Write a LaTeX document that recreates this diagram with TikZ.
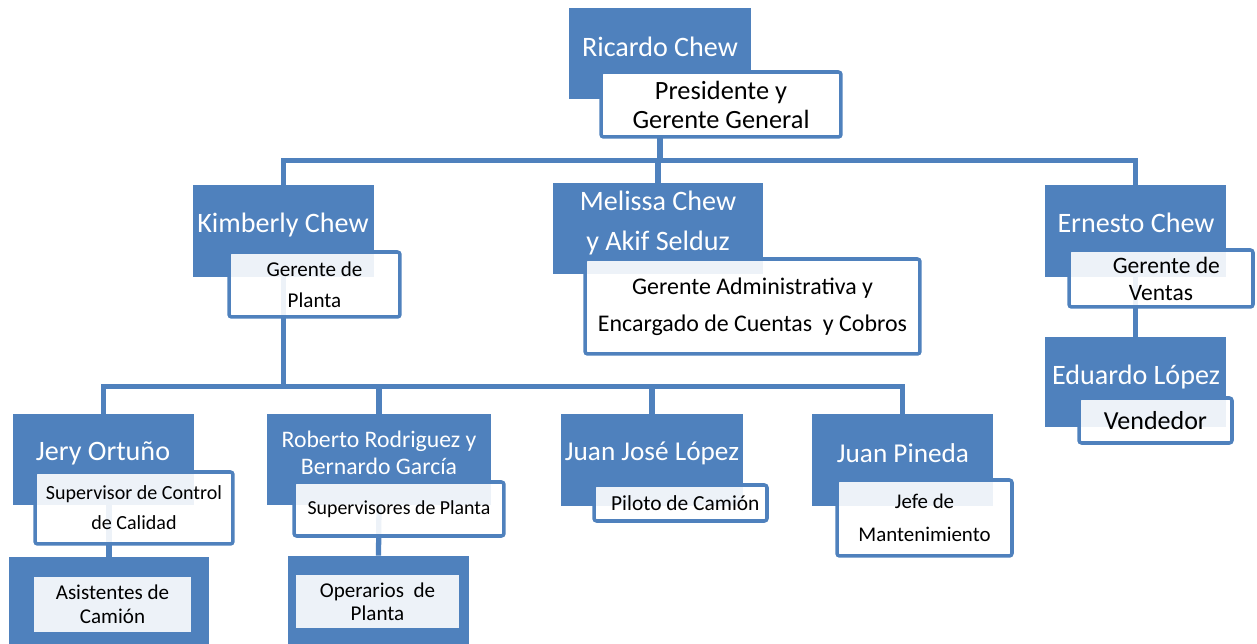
\documentclass[tikz,border=0pt]{standalone}
\usepackage{fontspec}
\setmainfont{Carlito}
\usepackage{tikz}
\usetikzlibrary{fit}
\definecolor{orgblue}{RGB}{79,129,189}

\begin{document}
\begin{tikzpicture}[x=0.02cm, y=-0.02cm,
    namebox/.style={fill=orgblue, inner sep=0pt},
    namelbl/.style={text=white, align=center, inner sep=0pt},
    rolebox/.style={draw=orgblue, line width=2pt, fill=white, fill opacity=0.9, text opacity=1, rounded corners=1.5pt, inner sep=0pt, align=center},
    innerbox/.style={fill=white, fill opacity=0.9, text opacity=1, inner sep=0pt, align=center},
    conn/.style={draw=orgblue, line width=3pt}]
    \clip (0, 0) rectangle (1257, 644);
    \node[namebox, fit={(569, 8) (751, 99)}] (ricardo) {};
    \node[namebox, fit={(193, 185) (374, 277)}] (kimberly) {};
    \node[namebox, fit={(553, 183) (763, 274)}] (melissa) {};
    \node[namebox, fit={(1045, 185) (1226, 277)}] (ernesto) {};
    \node[namebox, fit={(1045, 337) (1226, 427)}] (eduardo) {};
    \node[namebox, fit={(13, 414) (194, 505)}] (jery) {};
    \node[namebox, fit={(267, 414) (491, 505)}] (roberto) {};
    \node[namebox, fit={(561, 414) (743, 506)}] (juanjose) {};
    \node[namebox, fit={(812, 414) (993, 506)}] (pineda) {};
    \node[namebox, fit={(9, 557) (209, 660)}] (asistentes) {};
    \node[namebox, fit={(288, 556) (469, 660)}] (operarios) {};

    \path[conn] (ricardo.south) -- ++(0, 61) -| (kimberly.north);
    \path[conn] (ricardo.south) -- ++(0, 61) -| (melissa.north);
    \path[conn] (ricardo.south) -- ++(0, 61) -| (ernesto.north);
    \path[conn] (ernesto.south) -- (eduardo.north);
    \path[conn] (kimberly.south) -- ++(0, 109) -| (jery.north);
    \path[conn] (kimberly.south) -- ++(0, 109) -| (roberto.north);
    \path[conn] (kimberly.south) -- ++(0, 109) -| (juanjose.north);
    \path[conn] (kimberly.south) -- ++(0, 109) -| (pineda.north);
    \path[conn] (asistentes.north |- jery.south) -- (asistentes.north);
    \path[conn] (roberto.south) -- (operarios.north);

    \node[rolebox, fill opacity=1, minimum width=4.8cm, minimum height=1.3cm, font=\fontsize{15}{16.5}\selectfont] (ricardo-r) at (721, 104.5) {Presidente y\\Gerente General};
    \node[rolebox, minimum width=3.42cm, minimum height=1.3cm, font=\fontsize{12}{17.6}\selectfont] (kimberly-r) at (314.5, 284.5) {Gerente de\\Planta};
    \node[rolebox, minimum width=6.7cm, minimum height=1.9cm, font=\fontsize{13.6}{21}\selectfont] (melissa-r) at (752.5, 306.5) {Gerente Administrativa y\\Encargado de Cuentas\ \ y Cobros};
    \node[rolebox, minimum width=3.68cm, minimum height=1.14cm, font=\fontsize{13.4}{15.4}\selectfont] (ernesto-r) at (1161, 278.5) {\ \ Gerente de\\Ventas};
    \node[rolebox, minimum width=3.06cm, minimum height=0.9cm, font=\fontsize{14.8}{17}\selectfont] (eduardo-r) at (1155.5, 420.5) {Vendedor};
    \node[rolebox, minimum width=3.96cm, minimum height=1.44cm, font=\fontsize{11.4}{17}\selectfont] (jery-r) at (134, 508) {Supervisor de Control\\de Calidad};
    \node[rolebox, minimum width=4.2cm, minimum height=1.08cm, font=\fontsize{11.3}{13}\selectfont] (roberto-r) at (399, 509) {Supervisores de Planta};
    \node[rolebox, minimum width=3.46cm, minimum height=0.72cm, font=\fontsize{12.2}{14}\selectfont] (juanjose-r) at (680.5, 503) {\ \ Piloto de Camión};
    \node[rolebox, minimum width=3.5cm, minimum height=1.52cm, font=\fontsize{11.9}{18.8}\selectfont] (pineda-r) at (924.5, 518) {Jefe de\\Mantenimiento};
    \node[innerbox, minimum width=3.14cm, minimum height=1.1cm, font=\fontsize{12}{13.7}\selectfont] (asistentes-r) at (112.5, 604.5) {Asistentes de\\Camión};
    \node[innerbox, minimum width=3.26cm, minimum height=1.06cm, font=\fontsize{12}{13}\selectfont] (operarios-r) at (377.5, 601.5) {Operarios\ \ de\\Planta};

    \node[namelbl, font=\fontsize{16}{19}\selectfont] (ricardo-n) at (660, 47) {Ricardo Chew};
    \node[namelbl, font=\fontsize{16}{19}\selectfont] (kimberly-n) at (283, 225) {Kimberly Chew};
    \node[namelbl, font=\fontsize{16}{22.8}\selectfont] (melissa-n) at (658, 223) {Melissa Chew\\y Akif Selduz};
    \node[namelbl, font=\fontsize{16}{19}\selectfont] (ernesto-n) at (1136, 223) {Ernesto Chew};
    \node[namelbl, font=\fontsize{16}{19}\selectfont] (eduardo-n) at (1136, 377) {Eduardo López};
    \node[namelbl, font=\fontsize{16}{19}\selectfont] (jery-n) at (103, 453) {Jery Ortuño};
    \node[namelbl, font=\fontsize{13.5}{15.4}\selectfont] (roberto-n) at (379, 453) {Roberto Rodriguez y\\Bernardo García};
    \node[namelbl, font=\fontsize{15.5}{19}\selectfont] (juanjose-n) at (652, 453) {Juan José López};
    \node[namelbl, font=\fontsize{15.5}{19}\selectfont] (pineda-n) at (903, 453) {Juan Pineda};
\end{tikzpicture}
\end{document}
